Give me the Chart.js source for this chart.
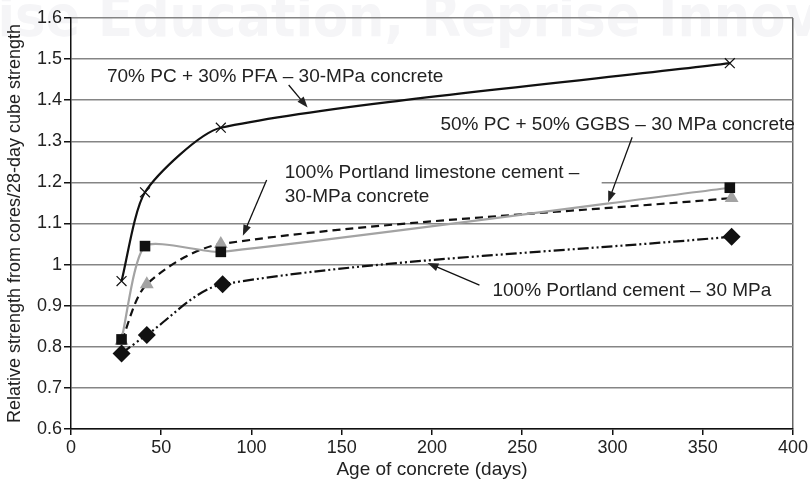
<!DOCTYPE html>
<html>
<head>
<meta charset="utf-8">
<script src="https://cdn.jsdelivr.net/npm/chart.js@4"></script>
<style>
html, body { margin: 0; padding: 0; background: #fff; }
</style>
</head>
<body>
<canvas id="chart" width="810" height="485"></canvas>
<script>
// values (days, relative strength)
const pfaDays = [28, 41, 83, 365];
const pfaValues = [0.96, 1.176, 1.333, 1.49];
const ggbsDays = [28, 41, 83, 365];
const ggbsValues = [0.818, 1.045, 1.031, 1.187];
const limeDays = [28, 42, 83, 366];
const limeValues = [0.815, 0.952, 1.05, 1.162];
const pcDays = [28, 42, 84, 366];
const pcValues = [0.784, 0.829, 0.952, 1.068];

const xTicks = [0, 50, 100, 150, 200, 250, 300, 350, 400];
const yTicks = [0.6, 0.7, 0.8, 0.9, 1.0, 1.1, 1.2, 1.3, 1.4, 1.5, 1.6];

const labelFont = '19px "Liberation Sans", Arial, sans-serif';

// callouts, in data units: text anchor and arrow from/to
const callouts = [
  { lines: ['70% PC + 30% PFA \u2013 30-MPa concrete'], x: 19.9, y: 1.457, align: 'left',
    from: [120.6, 1.437], to: [131.1, 1.382] },
  { lines: ['50% PC + 50% GGBS \u2013 30 MPa concrete'], x: 401, y: 1.340, align: 'right',
    from: [310.9, 1.310], to: [297.6, 1.152] },
  { lines: ['100% Portland limestone cement \u2013', '30-MPa concrete'], x: 118.4, y: 1.223, align: 'left',
    from: [108.4, 1.206], to: [95.2, 1.070], box: [107.5, 1.24, 294, 1.13] },
  { lines: ['100% Portland cement \u2013 30 MPa'], x: 233.5, y: 0.936, align: 'left',
    from: [226.3, 0.950], to: [197.5, 1.004] }
];

function series(days, vals) {
  return days.map((d, i) => ({ x: d, y: vals[i] }));
}

function arrow(c, x1, y1, x2, y2) {
  const a = Math.atan2(y2 - y1, x2 - x1);
  const len = 11, half = 4;
  c.beginPath();
  c.moveTo(x1, y1);
  c.lineTo(x2 - Math.cos(a) * len * 0.8, y2 - Math.sin(a) * len * 0.8);
  c.stroke();
  c.beginPath();
  c.moveTo(x2, y2);
  c.lineTo(x2 - Math.cos(a) * len - Math.sin(a) * half, y2 - Math.sin(a) * len + Math.cos(a) * half);
  c.lineTo(x2 - Math.cos(a) * len + Math.sin(a) * half, y2 - Math.sin(a) * len - Math.cos(a) * half);
  c.closePath();
  c.fill();
}

// faint publisher watermark across the top
const watermark = {
  id: 'watermark',
  beforeDraw(chart) {
    const c = chart.ctx;
    const fam = '"DejaVu Sans Condensed", "Liberation Sans Narrow", sans-serif';
    c.save();
    c.font = 'bold 48px ' + fam;
    const size = 48 * 306 / c.measureText('Education,').width;
    c.font = 'bold ' + size.toFixed(1) + 'px ' + fam;
    c.fillStyle = '#f5f5f7';
    c.textBaseline = 'middle';
    c.fillText('Reprise Education, Reprise Innovation', 98 - c.measureText('Reprise ').width, 21);
    c.restore();
  }
};

const calloutBoxes = {
  id: 'calloutBoxes',
  beforeDatasetsDraw(chart) {
    const c = chart.ctx, xs = chart.scales.x, ys = chart.scales.y;
    c.save();
    c.fillStyle = '#fff';
    callouts.forEach(o => {
      if (!o.box) return;
      const l = xs.getPixelForValue(o.box[0]), t = ys.getPixelForValue(o.box[1]);
      const r = xs.getPixelForValue(o.box[2]), b = ys.getPixelForValue(o.box[3]);
      c.fillRect(l, t, r - l, b - t);
    });
    c.restore();
  }
};

const calloutText = {
  id: 'calloutText',
  afterDatasetsDraw(chart) {
    const c = chart.ctx, xs = chart.scales.x, ys = chart.scales.y;
    c.save();
    c.fillStyle = '#222';
    c.strokeStyle = '#111';
    c.lineWidth = 1.3;
    c.font = labelFont;
    c.textBaseline = 'middle';
    callouts.forEach(o => {
      c.textAlign = o.align;
      const tx = xs.getPixelForValue(o.x), ty = ys.getPixelForValue(o.y);
      o.lines.forEach((s, i) => c.fillText(s, tx, ty + i * 24));
      arrow(c, xs.getPixelForValue(o.from[0]), ys.getPixelForValue(o.from[1]),
        xs.getPixelForValue(o.to[0]), ys.getPixelForValue(o.to[1]));
    });
    c.restore();
  }
};

const ctx = document.getElementById('chart').getContext('2d');
const myChart = new Chart(ctx, {
  type: 'line',
  data: {
    datasets: [
      {
        label: '70% PC + 30% PFA',
        data: series(pfaDays, pfaValues),
        borderColor: '#111',
        borderWidth: 2.2,
        tension: 0.22,
        pointStyle: 'crossRot',
        pointRadius: 7,
        pointBorderColor: '#111',
        pointBorderWidth: 1.2
      },
      {
        label: '50% PC + 50% GGBS',
        data: series(ggbsDays, ggbsValues),
        borderColor: '#a3a3a3',
        borderWidth: 2.2,
        tension: 0.2,
        pointStyle: 'rect',
        pointRadius: 7.5,
        pointBackgroundColor: '#111',
        pointBorderColor: '#111',
        pointBorderWidth: 0
      },
      {
        label: '100% Portland limestone cement',
        data: series(limeDays, limeValues),
        borderColor: '#111',
        borderWidth: 2.2,
        borderDash: [8, 5],
        tension: 0.3,
        pointStyle: 'triangle',
        pointRadius: 8,
        pointBackgroundColor: '#a3a3a3',
        pointBorderColor: '#a3a3a3',
        pointBorderWidth: 0
      },
      {
        label: '100% Portland cement',
        data: series(pcDays, pcValues),
        borderColor: '#111',
        borderWidth: 2.2,
        borderDash: [11, 3, 2, 3, 2, 3],
        tension: 0.3,
        pointStyle: 'rectRot',
        pointRadius: 9,
        pointBackgroundColor: '#111',
        pointBorderColor: '#111',
        pointBorderWidth: 0
      }
    ]
  },
  options: {
    responsive: false,
    animation: false,
    layout: { padding: { top: 18, right: 16, left: 0, bottom: 0 } },
    plugins: { legend: { display: false }, tooltip: { enabled: false } },
    scales: {
      x: {
        type: 'linear',
        min: 0,
        max: 400,
        afterBuildTicks: s => { s.ticks = xTicks.map(v => ({ value: v })); },
        afterFit: s => { s.height = 56; },
        border: { color: '#111', width: 1.5 },
        grid: {
          color: c => (c.tick && c.tick.value === 400 ? '#666' : 'rgba(0,0,0,0)'),
          lineWidth: 1.5,
          tickColor: '#111',
          tickLength: 6
        },
        ticks: {
          color: '#222',
          padding: 2,
          font: { family: '"Liberation Sans", Arial, sans-serif', size: 18 }
        },
        title: {
          display: true,
          text: 'Age of concrete (days)',
          color: '#222',
          padding: { top: 3 },
          font: { family: '"Liberation Sans", Arial, sans-serif', size: 19 }
        }
      },
      y: {
        min: 0.6,
        max: 1.6,
        afterBuildTicks: s => { s.ticks = yTicks.map(v => ({ value: v })); },
        afterFit: s => { s.width = 71; },
        border: { color: '#111', width: 1.5 },
        grid: {
          color: '#858585',
          lineWidth: 1.5,
          tickColor: '#111',
          tickLength: 7
        },
        ticks: {
          color: '#222',
          padding: 2,
          font: { family: '"Liberation Sans", Arial, sans-serif', size: 18 },
          callback: v => (Math.abs(v - 1) < 1e-9 ? '1' : v.toFixed(1))
        },
        title: {
          display: true,
          text: 'Relative strength from cores/28-day cube strength',
          color: '#222',
          padding: { bottom: 0 },
          font: { family: '"Liberation Sans", Arial, sans-serif', size: 18 }
        }
      }
    }
  },
  plugins: [watermark, calloutBoxes, calloutText]
});
</script>
</body>
</html>
